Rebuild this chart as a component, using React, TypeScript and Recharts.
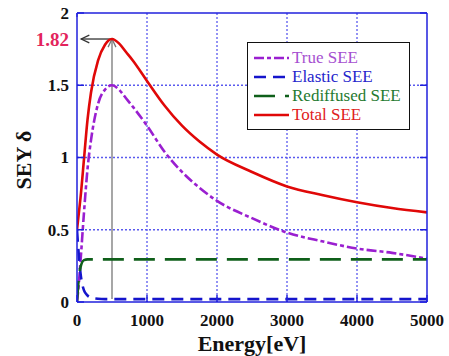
import React from "react"
import {
    LineChart,
    Line,
    XAxis,
    YAxis,
    CartesianGrid,
    ReferenceLine
} from "recharts"

const energy = [0, 25, 50, 100, 150, 200, 300, 400, 500, 600, 700, 800, 1000, 1250, 1500, 1750, 2000, 2500, 3000, 3500, 4000, 4500, 5000]
const trueSee = [0, 0.12, 0.28, 0.62, 0.92, 1.12, 1.37, 1.47, 1.5, 1.47, 1.41, 1.35, 1.22, 1.04, 0.9, 0.79, 0.7, 0.58, 0.48, 0.42, 0.37, 0.34, 0.3]
const elasticSee = [0.5, 0.33, 0.2, 0.08, 0.045, 0.03, 0.022, 0.02, 0.02, 0.02, 0.02, 0.02, 0.02, 0.02, 0.02, 0.02, 0.02, 0.02, 0.02, 0.02, 0.02, 0.02, 0.02]
const rediffusedSee = [0, 0.16, 0.24, 0.29, 0.295, 0.295, 0.295, 0.295, 0.295, 0.295, 0.295, 0.295, 0.295, 0.295, 0.295, 0.295, 0.295, 0.295, 0.295, 0.295, 0.295, 0.295, 0.295]
const totalSee = [0.5, 0.61, 0.72, 0.99, 1.26, 1.45, 1.67, 1.78, 1.82, 1.79, 1.73, 1.67, 1.53, 1.36, 1.22, 1.11, 1.02, 0.9, 0.8, 0.74, 0.69, 0.65, 0.62]

const xTicks = [0, 1000, 2000, 3000, 4000, 5000]
const xMinorTicks = [0, 200, 400, 600, 800, 1000, 1200, 1400, 1600, 1800, 2000, 2200, 2400, 2600, 2800, 3000, 3200, 3400, 3600, 3800, 4000, 4200, 4400, 4600, 4800, 5000]
const yTicks = [0, 0.5, 1, 1.5, 1.82, 2]
const yMajorTicks = [0, 0.5, 1, 1.5, 2]

const peakEnergy = 500
const peakSey = 1.82
const arrowLeftEnergy = 60
const arrowBottomSey = 0.02

const data = energy.map((e, i) => ({
    energy: e,
    trueSee: trueSee[i],
    elasticSee: elasticSee[i],
    rediffusedSee: rediffusedSee[i],
    totalSee: totalSee[i]
}))

const series = [
    { key: "trueSee", name: "True SEE", color: "#9a1fd0", text: "#a64fd0", dash: "10 3 4 3" },
    { key: "elasticSee", name: "Elastic SEE", color: "#1515cc", text: "#2525cc", dash: "12 7" },
    { key: "rediffusedSee", name: "Rediffused SEE", color: "#0f5f1a", text: "#1f7a30", dash: "21 10" },
    { key: "totalSee", name: "Total SEE", color: "#e00808", text: "#e02020", dash: undefined }
]

const FONT = "'Liberation Serif', 'Times New Roman', Times, serif"
const AXIS_BLUE = "#2020dd"

// bottom axis: tick mark pointing up into the plot + label below
const XTick = (props: any) => {
    const { x, y, payload } = props
    return (
        <g>
            <line x1={x} y1={y} x2={x} y2={y - 7} stroke={AXIS_BLUE} strokeWidth={1.5} />
            <text x={x} y={y + 24} textAnchor="middle" fontFamily={FONT} fontWeight="bold" fontSize={17} fill="#111">
                {payload.value}
            </text>
        </g>
    )
}

const TopTick = (props: any) => {
    const { x, y } = props
    return <line x1={x} y1={y} x2={x} y2={y + 4} stroke={AXIS_BLUE} strokeWidth={1.2} />
}

const YTick = (props: any) => {
    const { x, y, payload } = props
    const special = payload.value === peakSey
    return (
        <g>
            {!special && <line x1={x} y1={y} x2={x + 7} y2={y} stroke={AXIS_BLUE} strokeWidth={1.5} />}
            <text x={x - 8} y={y} dy="0.35em" textAnchor="end" fontFamily={FONT} fontWeight="bold" fontSize={special ? 19 : 17} fill={special ? "#e3245c" : "#111"}>
                {payload.value}
            </text>
        </g>
    )
}

const RightTick = (props: any) => {
    const { x, y } = props
    return <line x1={x} y1={y} x2={x - 7} y2={y} stroke={AXIS_BLUE} strokeWidth={1.5} />
}

const arrowShape = (color: string) => (props: any) => {
    const { x1, y1, x2, y2 } = props
    if ([x1, y1, x2, y2].some(v => v === undefined || isNaN(v))) return <g />
    const ang = Math.atan2(y2 - y1, x2 - x1)
    const len = 9
    const spread = 0.45
    const ax = x2 - len * Math.cos(ang - spread)
    const ay = y2 - len * Math.sin(ang - spread)
    const bx = x2 - len * Math.cos(ang + spread)
    const by = y2 - len * Math.sin(ang + spread)
    return (
        <g>
            <line x1={x1} y1={y1} x2={x2} y2={y2} stroke={color} strokeWidth={1.3} />
            <polyline points={`${ax},${ay} ${x2},${y2} ${bx},${by}`} fill="none" stroke={color} strokeWidth={1.3} />
        </g>
    )
}

export default function App() {
    return (
        <div style={{ position: "absolute", left: 0, top: 0, width: 449, height: 356, background: "#fff" }}>
            <LineChart
                width={449}
                height={356}
                data={data}
                margin={{ top: 0, right: 0, bottom: 0, left: 0 }}
            >
                <CartesianGrid
                    stroke="#5a5aee"
                    strokeDasharray="2 2"
                    strokeWidth={1.3}
                    horizontalValues={[0.5, 1, 1.5]}
                    verticalValues={[1000, 2000, 3000, 4000]}
                />
                <XAxis
                    dataKey="energy"
                    type="number"
                    domain={[0, 5000]}
                    ticks={xTicks}
                    height={54}
                    tickSize={0}
                    tickMargin={0}
                    tick={<XTick />}
                    axisLine={{ stroke: AXIS_BLUE, strokeWidth: 1.5 }}
                    tickLine={false}
                    interval={0}
                    allowDataOverflow
                />
                <XAxis
                    xAxisId="top"
                    orientation="top"
                    type="number"
                    domain={[0, 5000]}
                    ticks={xMinorTicks}
                    height={13}
                    tickSize={0}
                    tickMargin={0}
                    tick={<TopTick />}
                    axisLine={{ stroke: AXIS_BLUE, strokeWidth: 1.5 }}
                    tickLine={false}
                    interval={0}
                    allowDataOverflow
                />
                <YAxis
                    type="number"
                    domain={[0, 2]}
                    ticks={yTicks}
                    width={77}
                    tickSize={0}
                    tickMargin={0}
                    tick={<YTick />}
                    axisLine={{ stroke: AXIS_BLUE, strokeWidth: 1.5 }}
                    tickLine={false}
                    interval={0}
                    allowDataOverflow
                />
                <YAxis
                    yAxisId="right"
                    orientation="right"
                    type="number"
                    domain={[0, 2]}
                    ticks={yMajorTicks}
                    width={22}
                    tickSize={0}
                    tickMargin={0}
                    tick={<RightTick />}
                    axisLine={{ stroke: AXIS_BLUE, strokeWidth: 1.5 }}
                    tickLine={false}
                    interval={0}
                    allowDataOverflow
                />
                <ReferenceLine
                    segment={[{ x: peakEnergy, y: arrowBottomSey }, { x: peakEnergy, y: peakSey }]}
                    shape={arrowShape("#777")}
                />
                <ReferenceLine
                    segment={[{ x: peakEnergy, y: peakSey }, { x: arrowLeftEnergy, y: peakSey }]}
                    shape={arrowShape("#333")}
                />
                {series.map(s => (
                    <Line
                        key={s.key}
                        dataKey={s.key}
                        type="monotone"
                        stroke={s.color}
                        strokeWidth={2.6}
                        strokeDasharray={s.dash}
                        dot={false}
                        isAnimationActive={false}
                    />
                ))}
            </LineChart>

            <div
                style={{
                    position: "absolute",
                    left: 24,
                    top: 160,
                    transform: "translate(-50%, -50%) rotate(-90deg)",
                    fontFamily: FONT,
                    fontWeight: "bold",
                    fontSize: 22,
                    whiteSpace: "nowrap",
                    color: "#111"
                }}
            >
                SEY δ
            </div>
            <div
                style={{
                    position: "absolute",
                    left: 252,
                    top: 344,
                    transform: "translate(-50%, -50%)",
                    fontFamily: FONT,
                    fontWeight: "bold",
                    fontSize: 22,
                    lineHeight: "22px",
                    whiteSpace: "nowrap",
                    color: "#111"
                }}
            >
                Energy[eV]
            </div>

            <div
                style={{
                    position: "absolute",
                    left: 247,
                    top: 42,
                    width: 161,
                    height: 81,
                    border: "1.5px solid #111",
                    background: "#fff",
                    boxSizing: "content-box",
                    paddingTop: 5
                }}
            >
                {series.map(s => (
                    <div key={s.key} style={{ display: "flex", alignItems: "center", height: 19 }}>
                        <svg width={44} height={10} style={{ flex: "none" }}>
                            <line x1={6} y1={5} x2={41} y2={5} stroke={s.color} strokeWidth={2.6} strokeDasharray={s.dash} />
                        </svg>
                        <span style={{ fontFamily: FONT, fontSize: 17, lineHeight: "19px", color: s.text, whiteSpace: "nowrap" }}>{s.name}</span>
                    </div>
                ))}
            </div>
        </div>
    )
}
